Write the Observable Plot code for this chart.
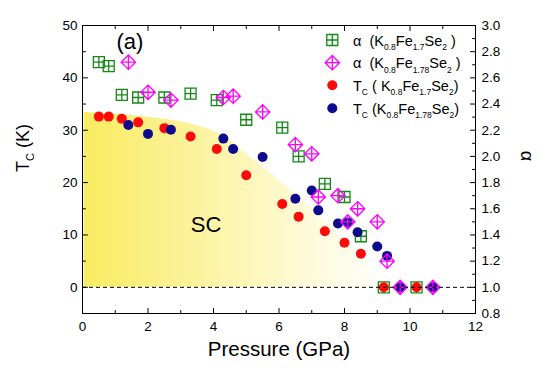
<!DOCTYPE html>
<html>
<head>
<meta charset="utf-8">
<script src="https://cdn.jsdelivr.net/npm/d3@7"></script>
<script src="https://cdn.jsdelivr.net/npm/@observablehq/plot@0.6"></script>
<style>
  html, body { margin: 0; padding: 0; background: #fff; }
  svg text { font-family: "Liberation Sans", Arial, sans-serif; }
</style>
</head>
<body>
<div id="chart"></div>
<script>
// ---- data ----
// K0.8Fe1.7Se2
const pressure1 = [0.5, 0.8, 1.2, 1.7, 2.5, 3.3, 4.1, 5.0, 6.1, 6.6, 7.4, 8.0, 8.5, 9.2, 10.2];
const tc1       = [32.6, 32.6, 32.2, 31.5, 30.4, 28.8, 26.4, 21.4, 15.9, 13.5, 10.7, 8.5, 6.4, 0, 0];
const alpha1    = [2.72, 2.69, 2.47, 2.45, 2.45, 2.48, 2.43, 2.28, 2.22, 2.00, 1.79, 1.69, 1.39, 1.0, 1.0];
// K0.8Fe1.78Se2
const pressure2 = [1.4, 2.0, 2.7, 4.3, 4.6, 5.5, 6.5, 7.0, 7.2, 7.8, 8.1, 8.4, 9.0, 9.3, 9.7, 10.7];
const tc2       = [31.0, 29.3, 30.1, 28.4, 26.4, 24.9, 16.9, 18.5, 14.7, 12.2, 12.4, 10.5, 7.8, 6.0, 0, 0];
const alpha2    = [2.72, 2.49, 2.43, 2.45, 2.46, 2.34, 2.09, 2.02, 1.69, 1.70, 1.50, 1.60, 1.50, 1.20, 1.0, 1.0];
// superconducting region boundary
const scPressure = [0.05, 1, 2, 3, 4, 4.5, 5, 6, 7, 8, 9, 9.5];
const scTc       = [33.4, 33.1, 32.5, 31.6, 29.8, 28.2, 25.5, 20.5, 15, 9, 3, 0];
// axes
const xMajor = [0, 2, 4, 6, 8, 10, 12];
const xMinor = [1, 3, 5, 7, 9, 11];
const tcMajor = [0, 10, 20, 30, 40, 50];
const tcMinor = [5, 15, 25, 35, 45];
const alphaMajor = [0.8, 1.0, 1.2, 1.4, 1.6, 1.8, 2.0, 2.2, 2.4, 2.6, 2.8, 3.0];
const alphaMinor = [0.9, 1.1, 1.3, 1.5, 1.7, 1.9, 2.1, 2.3, 2.5, 2.7, 2.9];

// alpha axis is tied to Tc axis: alpha = 1 + Tc/25
const a2t = a => (a - 1) * 25;

const set1 = pressure1.map((p, i) => ({p, tc: tc1[i], alpha: alpha1[i]}));
const set2 = pressure2.map((p, i) => ({p, tc: tc2[i], alpha: alpha2[i]}));
const sc = scPressure.map((p, i) => ({p, tc: scTc[i]}));

const GREEN = "#138a13", MAGENTA = "#ff00ff", RED = "#ff0a0a", BLUE = "#0c0c8c";
const FONT = '"Liberation Sans", Arial, sans-serif';

const squarePlus = {draw(ctx, size) {
  const s = Math.sqrt(size / Math.PI);
  ctx.moveTo(-s, -s); ctx.lineTo(s, -s); ctx.lineTo(s, s); ctx.lineTo(-s, s); ctx.closePath();
  ctx.moveTo(-s, 0); ctx.lineTo(s, 0); ctx.moveTo(0, -s); ctx.lineTo(0, s);
}};
const diamondPlus = {draw(ctx, size) {
  const s = Math.sqrt(size / Math.PI);
  ctx.moveTo(0, -s); ctx.lineTo(s, 0); ctx.lineTo(0, s); ctx.lineTo(-s, 0); ctx.closePath();
  ctx.moveTo(-s, 0); ctx.lineTo(s, 0); ctx.moveTo(0, -s); ctx.lineTo(0, s);
}};
const tickShape = {draw(ctx, l) { ctx.moveTo(0, 0); ctx.lineTo(0, -l); }};

function ticks(values, fixed, rotate, len, isX) {
  return Plot.vector(values, {
    x: isX ? (d => d) : fixed,
    y: isX ? fixed : (d => d),
    length: len, rotate, anchor: "start", shape: tickShape, stroke: "black", strokeWidth: 1
  });
}

const chart = Plot.plot({
  width: 553, height: 371,
  marginLeft: 82, marginRight: 78, marginTop: 25, marginBottom: 58,
  x: {domain: [0, 12]},
  y: {domain: [-5, 50]},
  style: {fontFamily: FONT, fontSize: "13.5px", color: "black", background: "white"},
  marks: [
    Plot.areaY(sc, {x: "p", y1: 0, y2: "tc", fill: "url(#scgrad)", curve: "monotone-x"}),
    Plot.dot(set1, {x: "p", y: d => a2t(d.alpha), symbol: squarePlus, r: 5.5, stroke: GREEN, strokeWidth: 1.3, fill: "none"}),
    Plot.dot(set1, {x: "p", y: "tc", r: 5, fill: RED}),
    Plot.dot(set2, {x: "p", y: "tc", r: 5, fill: BLUE}),
    Plot.dot(set2, {x: "p", y: d => a2t(d.alpha), symbol: diamondPlus, r: 7.2, stroke: MAGENTA, strokeWidth: 1.3, fill: "none"}),
    Plot.ruleY([0], {stroke: "black", strokeDasharray: "4,3", strokeWidth: 1}),
    Plot.frame({stroke: "black", strokeWidth: 1}),
    ticks(xMajor, -5, 0, 5, true), ticks(xMinor, -5, 0, 3, true),
    ticks(xMajor, 50, 180, 5, true), ticks(xMinor, 50, 180, 3, true),
    ticks(tcMajor, 0, 90, 5, false), ticks(tcMinor, 0, 90, 3, false),
    ticks(alphaMajor.map(a2t), 12, -90, 5, false), ticks(alphaMinor.map(a2t), 12, -90, 3, false),
    Plot.axisX({ticks: xMajor, tickSize: 0, tickPadding: 8, label: null, tickFormat: d => String(d)}),
    Plot.axisY({ticks: tcMajor, tickSize: 0, tickPadding: 5, label: null, tickFormat: d => String(d)}),
    Plot.axisY({anchor: "right", ticks: alphaMajor.map(a2t), tickSize: 0, tickPadding: 6, label: null,
                tickFormat: t => (1 + t / 25).toFixed(1)})
  ]
});

document.getElementById("chart").appendChild(chart);

// ---- decorations: gradient, labels, legend ----
const svg = d3.select(chart);
const defs = svg.append("defs");
const grad = defs.append("linearGradient").attr("id", "scgrad")
  .attr("x1", "0").attr("y1", "0").attr("x2", "1").attr("y2", "0");
[[0, "#f9ec60"], [0.25, "#fbf08a"], [0.5, "#fdf6b4"], [0.78, "#fefbe2"], [1, "#ffffff"]]
  .forEach(([o, c]) => grad.append("stop").attr("offset", o).attr("stop-color", c));

const g = svg.append("g").attr("font-family", FONT).attr("fill", "black")
  .attr("text-anchor", "start").style("white-space", "pre");

function rich(parent, parts, size, subSize) {
  const t = parent.append("text").attr("font-size", size);
  let shifted = false;
  parts.forEach(([s, sub]) => {
    const ts = t.append("tspan").text(s);
    if (sub && !shifted) { ts.attr("font-size", subSize).attr("dy", size * 0.3); shifted = true; }
    else if (sub) { ts.attr("font-size", subSize); }
    else if (!sub && shifted) { ts.attr("dy", -size * 0.3); shifted = false; }
  });
  return t;
}

// axis titles
g.append("text").attr("x", 279).attr("y", 356).attr("text-anchor", "middle")
  .attr("font-size", 20.5).text("Pressure (GPa)");
const yl = g.append("g").attr("transform", "translate(29,148) rotate(-90)");
rich(yl, [["T", false], ["C", true], [" (K)", false]], 18, 11).attr("text-anchor", "middle");
g.append("text").attr("transform", "translate(527,156) rotate(90)").attr("text-anchor", "middle")
  .attr("dominant-baseline", "central").attr("font-size", 18).text("α");

// panel labels
g.append("text").attr("x", 130).attr("y", 48.5).attr("text-anchor", "middle").attr("font-size", 22).text("(a)");
g.append("text").attr("x", 206).attr("y", 231.5).attr("text-anchor", "middle").attr("font-size", 22).text("SC");

// legend
const legendRows = [
  {sym: "square", parts: [["α  (K", false], ["0.8", true], ["Fe", false], ["1.7", true], ["Se", false], ["2", true], [" )", false]]},
  {sym: "diamond", parts: [["α  (K", false], ["0.8", true], ["Fe", false], ["1.78", true], ["Se", false], ["2", true], [" )", false]]},
  {sym: "red", parts: [["T", false], ["C", true], [" ( K", false], ["0.8", true], ["Fe", false], ["1.7", true], ["Se", false], ["2", true], [")", false]]},
  {sym: "blue", parts: [["T", false], ["C", true], [" (K", false], ["0.8", true], ["Fe", false], ["1.78", true], ["Se", false], ["2", true], [")", false]]}
];
const rowY = [40, 62.7, 85.3, 108.3];
legendRows.forEach((row, i) => {
  const cy = rowY[i], cx = 332.3;
  if (row.sym === "square" || row.sym === "diamond") {
    const p = d3.path();
    const r = row.sym === "square" ? 5.5 : 7.2;
    (row.sym === "square" ? squarePlus : diamondPlus).draw(p, Math.PI * r * r);
    g.append("path").attr("d", p.toString()).attr("transform", `translate(${cx},${cy})`)
      .attr("fill", "none").attr("stroke", row.sym === "square" ? GREEN : MAGENTA).attr("stroke-width", 1.3);
  } else {
    g.append("circle").attr("cx", cx).attr("cy", cy).attr("r", 5).attr("fill", row.sym === "red" ? RED : BLUE);
  }
  rich(g, row.parts, 14.5, 8.5).attr("x", 353).attr("y", cy + 5.5);
});
</script>
</body>
</html>
